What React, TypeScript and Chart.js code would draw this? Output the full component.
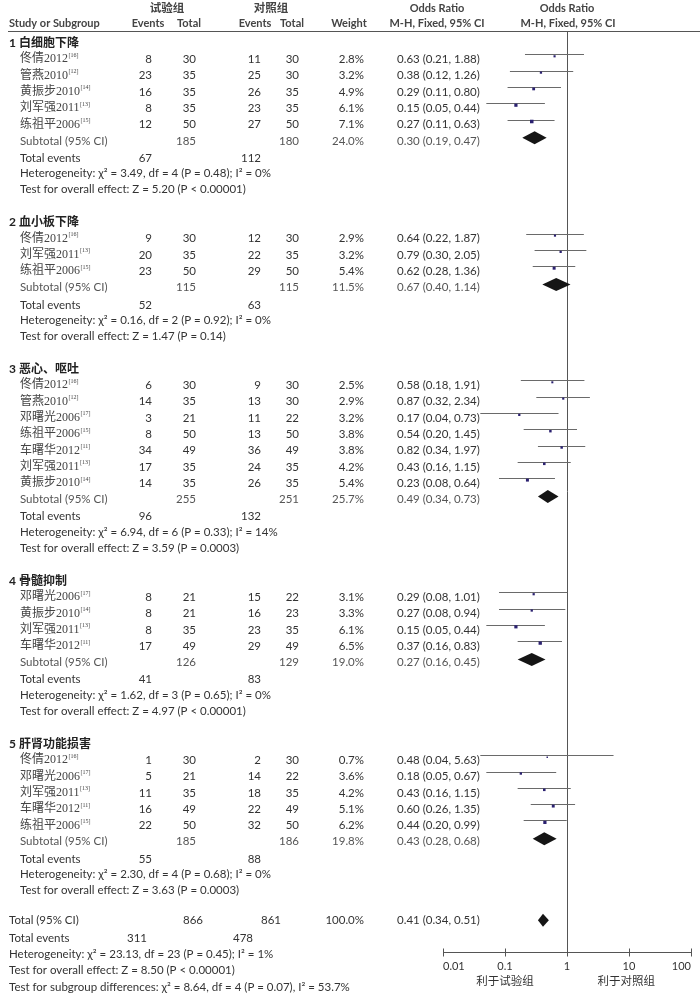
import React, { useEffect, useRef } from "react";
import { Chart, registerables } from "chart.js";
Chart.register(...registerables);

// ---------- data ----------
const groupTitles = ["1 白细胞下降", "2 血小板下降", "3 恶心、呕吐", "4 骨髓抑制", "5 肝肾功能损害"];
const groupSizes = [5, 3, 7, 4, 5];

const studyNames = [
  "佟倩2012", "管燕2010", "黄振步2010", "刘军强2011", "练祖平2006",
  "佟倩2012", "刘军强2011", "练祖平2006",
  "佟倩2012", "管燕2010", "邓曙光2006", "练祖平2006", "车曙华2012", "刘军强2011", "黄振步2010",
  "邓曙光2006", "黄振步2010", "刘军强2011", "车曙华2012",
  "佟倩2012", "邓曙光2006", "刘军强2011", "车曙华2012", "练祖平2006",
];
const studyRefs = [
  "[16]", "[12]", "[14]", "[13]", "[15]",
  "[16]", "[13]", "[15]",
  "[16]", "[12]", "[17]", "[15]", "[11]", "[13]", "[14]",
  "[17]", "[14]", "[13]", "[11]",
  "[16]", "[17]", "[13]", "[11]", "[15]",
];
const expEvents = [8, 23, 16, 8, 12, 9, 20, 23, 6, 14, 3, 8, 34, 17, 14, 8, 8, 8, 17, 1, 5, 11, 16, 22];
const expTotals = [30, 35, 35, 35, 50, 30, 35, 50, 30, 35, 21, 50, 49, 35, 35, 21, 21, 35, 49, 30, 21, 35, 49, 50];
const ctrlEvents = [11, 25, 26, 23, 27, 12, 22, 29, 9, 13, 11, 13, 36, 24, 26, 15, 16, 23, 29, 2, 14, 18, 22, 32];
const ctrlTotals = [30, 30, 35, 35, 50, 30, 35, 50, 30, 30, 22, 50, 49, 35, 35, 22, 23, 35, 49, 30, 22, 35, 49, 50];
const studyWeights = [2.8, 3.2, 4.9, 6.1, 7.1, 2.9, 3.2, 5.4, 2.5, 2.9, 3.2, 3.8, 3.8, 4.2, 5.4, 3.1, 3.3, 6.1, 6.5, 0.7, 3.6, 4.2, 5.1, 6.2];
const studyOR = [0.63, 0.38, 0.29, 0.15, 0.27, 0.64, 0.79, 0.62, 0.58, 0.87, 0.17, 0.54, 0.82, 0.43, 0.23, 0.29, 0.27, 0.15, 0.37, 0.48, 0.18, 0.43, 0.60, 0.44];
const studyLow = [0.21, 0.12, 0.11, 0.05, 0.11, 0.22, 0.30, 0.28, 0.18, 0.32, 0.04, 0.20, 0.34, 0.16, 0.08, 0.08, 0.08, 0.05, 0.16, 0.04, 0.05, 0.16, 0.26, 0.20];
const studyHigh = [1.88, 1.26, 0.80, 0.44, 0.63, 1.87, 2.05, 1.36, 1.91, 2.34, 0.73, 1.45, 1.97, 1.15, 0.64, 1.01, 0.94, 0.44, 0.83, 5.63, 0.67, 1.15, 1.35, 0.99];

const subExpTotals = [185, 115, 255, 126, 185];
const subCtrlTotals = [180, 115, 251, 129, 186];
const subWeights = [24.0, 11.5, 25.7, 19.0, 19.8];
const subOR = [0.30, 0.67, 0.49, 0.27, 0.43];
const subLow = [0.19, 0.40, 0.34, 0.16, 0.28];
const subHigh = [0.47, 1.14, 0.73, 0.45, 0.68];
const subExpEvents = [67, 52, 96, 41, 55];
const subCtrlEvents = [112, 63, 132, 83, 88];
const hetChi = ["3.49", "0.16", "6.94", "1.62", "2.30"];
const hetDf = [4, 2, 6, 3, 4];
const hetP = ["0.48", "0.92", "0.33", "0.65", "0.68"];
const hetI2 = ["0%", "0%", "14%", "0%", "0%"];
const effectZ = ["5.20", "1.47", "3.59", "4.97", "3.63"];
const effectP = ["P < 0.00001", "P = 0.14", "P = 0.0003", "P < 0.00001", "P = 0.0003"];

const totalExp = 866;
const totalCtrl = 861;
const totalWeight = 100.0;
const totalOR = [0.41, 0.34, 0.51];
const totalEvents = [311, 478];
const totalHetText = "Heterogeneity: χ² = 23.13, df = 23 (P = 0.45); I² = 1%";
const totalEffectText = "Test for overall effect: Z = 8.50 (P < 0.00001)";
const subgroupDiffText = "Test for subgroup differences: χ² = 8.64, df = 4 (P = 0.07), I² = 53.7%";

const axisTicks = [0.01, 0.1, 1, 10, 100];
const axisTickLabels = ["0.01", "0.1", "1", "10", "100"];
const favourLabels = ["利于试验组", "利于对照组"];

// ---------- layout ----------
const W = 700, H = 997;
const ROW0_PX = 40, ROW_PX = 16.3, PLOT_TOP = 31, PLOT_BOTTOM = 952;
const Y_MIN = -(ROW0_PX - PLOT_TOP) / ROW_PX;
const Y_MAX = (PLOT_BOTTOM - ROW0_PX) / ROW_PX;
const TEXT_SHIFT = 3;
const COL = { title: 9, name: 20, expEv: 152, expTot: 196, ctrlEv: 261, ctrlTot: 299, weight: 364, orText: 397 };

const LATIN = "Lato, 'Noto Sans CJK SC', sans-serif";
const SERIF = "'Liberation Serif', 'Noto Sans CJK SC', serif";
const TXT = "#333";

// row indices
const studyRows: number[] = [];
const titleRows: number[] = [];
const subRows: number[] = [];
let rr = 0;
let si = 0;
groupSizes.forEach((n) => {
  titleRows.push(rr);
  for (let k = 0; k < n; k++) studyRows[si++] = rr + 1 + k;
  subRows.push(rr + n + 1);
  rr += n + 6;
});
const totalRow = rr;

const fmtOR = (o: number, l: number, h: number) => `${o.toFixed(2)} (${l.toFixed(2)}, ${h.toFixed(2)})`;

function txt(ctx: CanvasRenderingContext2D, s: string, x: number, y: number, align: CanvasTextAlign, font: string, color = TXT) {
  ctx.font = font;
  ctx.fillStyle = color;
  ctx.textAlign = align;
  ctx.textBaseline = "middle";
  ctx.fillText(s, x, y);
}

const forestPlugin = {
  id: "forest",
  beforeDatasetsDraw(chart: any) {
    const { ctx, chartArea, scales } = chart;
    const x = scales.x, y = scales.y;
    ctx.save();
    ctx.lineWidth = 1;
    // header rule
    ctx.strokeStyle = "#555";
    ctx.beginPath();
    ctx.moveTo(8, chartArea.top + 0.5);
    ctx.lineTo(W, chartArea.top + 0.5);
    ctx.stroke();
    // line of no effect
    const x1 = Math.round(x.getPixelForValue(1)) + 0.5;
    ctx.beginPath();
    ctx.moveTo(x1, chartArea.top);
    ctx.lineTo(x1, chartArea.bottom);
    ctx.stroke();
    // confidence intervals
    ctx.strokeStyle = "#6a6a6a";
    studyOR.forEach((_, i) => {
      const py = Math.round(y.getPixelForValue(studyRows[i])) - 1.5;
      ctx.beginPath();
      ctx.moveTo(x.getPixelForValue(studyLow[i]), py);
      ctx.lineTo(x.getPixelForValue(studyHigh[i]), py);
      ctx.stroke();
    });
    // diamonds
    const diamond = (o: number, l: number, h: number, row: number, half: number) => {
      const cy = y.getPixelForValue(row);
      ctx.fillStyle = "#151515";
      ctx.beginPath();
      ctx.moveTo(x.getPixelForValue(l), cy);
      ctx.lineTo(x.getPixelForValue(o), cy - half);
      ctx.lineTo(x.getPixelForValue(h), cy);
      ctx.lineTo(x.getPixelForValue(o), cy + half);
      ctx.closePath();
      ctx.fill();
    };
    subOR.forEach((o, g) => diamond(o, subLow[g], subHigh[g], subRows[g], 6.5));
    diamond(totalOR[0], totalOR[1], totalOR[2], totalRow, 6.5);
    // axis
    ctx.strokeStyle = "#555";
    const ay = chartArea.bottom + 0.5;
    ctx.beginPath();
    ctx.moveTo(x.getPixelForValue(axisTicks[0]), ay);
    ctx.lineTo(x.getPixelForValue(axisTicks[axisTicks.length - 1]), ay);
    axisTicks.forEach((t) => {
      const tx = Math.round(x.getPixelForValue(t)) + 0.5;
      ctx.moveTo(tx, ay - 4);
      ctx.lineTo(tx, ay + 4);
    });
    ctx.stroke();
    axisTicks.forEach((t, i) => {
      const tx = x.getPixelForValue(t);
      const align: CanvasTextAlign = i === 0 ? "left" : i === axisTicks.length - 1 ? "right" : "center";
      txt(ctx, axisTickLabels[i], tx, ay + 14, align, `11px ${LATIN}`);
    });
    txt(ctx, favourLabels[0], x.getPixelForValue(0.1), ay + 28, "center", `11.5px 'Noto Sans CJK SC'`);
    txt(ctx, favourLabels[1], x.getPixelForValue(9), ay + 28, "center", `11.5px 'Noto Sans CJK SC'`);
    ctx.restore();
  },
  afterDatasetsDraw(chart: any) {
    const { ctx, scales } = chart;
    const y = scales.y;
    const x = scales.x;
    const ry = (row: number) => y.getPixelForValue(row) + TEXT_SHIFT;
    ctx.save();
    const F = `11.5px ${LATIN}`;
    const FB = `bold 11px ${LATIN}`;
    const sub = "#555";
    // header
    txt(ctx, "试验组", 167, 8, "center", `bold 11.5px 'Noto Sans CJK SC'`, "#444");
    txt(ctx, "对照组", 271, 8, "center", `bold 11.5px 'Noto Sans CJK SC'`, "#444");
    txt(ctx, "Odds Ratio", 437, 8, "center", FB, "#444");
    txt(ctx, "Odds Ratio", x.getPixelForValue(1), 8, "center", FB, "#444");
    txt(ctx, "Study or Subgroup", 9, 23, "left", FB, "#444");
    txt(ctx, "Events", 148, 23, "center", FB, "#444");
    txt(ctx, "Total", 189, 23, "center", FB, "#444");
    txt(ctx, "Events", 255, 23, "center", FB, "#444");
    txt(ctx, "Total", 292, 23, "center", FB, "#444");
    txt(ctx, "Weight", 349, 23, "center", FB, "#444");
    txt(ctx, "M-H, Fixed, 95% CI", 437, 23, "center", FB, "#444");
    txt(ctx, "M-H, Fixed, 95% CI", x.getPixelForValue(1) + 1, 23, "center", FB, "#444");

    groupTitles.forEach((t, g) => {
      txt(ctx, t, COL.title, ry(titleRows[g]), "left", `bold 12px ${LATIN}`, "#222");
    });
    studyNames.forEach((nm, i) => {
      const py = ry(studyRows[i]);
      txt(ctx, nm, COL.name, py, "left", `12px ${SERIF}`, "#444");
      ctx.font = `12px ${SERIF}`;
      const w = ctx.measureText(nm).width;
      txt(ctx, studyRefs[i], COL.name + w + 0.5, py - 4, "left", `6px ${SERIF}`, "#444");
      txt(ctx, String(expEvents[i]), COL.expEv, py, "right", F);
      txt(ctx, String(expTotals[i]), COL.expTot, py, "right", F);
      txt(ctx, String(ctrlEvents[i]), COL.ctrlEv, py, "right", F);
      txt(ctx, String(ctrlTotals[i]), COL.ctrlTot, py, "right", F);
      txt(ctx, studyWeights[i].toFixed(1) + "%", COL.weight, py, "right", F);
      txt(ctx, fmtOR(studyOR[i], studyLow[i], studyHigh[i]), COL.orText, py, "left", F);
    });
    subRows.forEach((r, g) => {
      const py = ry(r);
      txt(ctx, "Subtotal (95% CI)", COL.name, py, "left", F, sub);
      txt(ctx, String(subExpTotals[g]), COL.expTot, py, "right", F, sub);
      txt(ctx, String(subCtrlTotals[g]), COL.ctrlTot, py, "right", F, sub);
      txt(ctx, subWeights[g].toFixed(1) + "%", COL.weight, py, "right", F, sub);
      txt(ctx, fmtOR(subOR[g], subLow[g], subHigh[g]), COL.orText, py, "left", F, sub);
      const p2 = ry(r + 1) + 1;
      txt(ctx, "Total events", COL.name, p2, "left", F);
      txt(ctx, String(subExpEvents[g]), COL.expEv, p2, "right", F);
      txt(ctx, String(subCtrlEvents[g]), COL.ctrlEv, p2, "right", F);
      txt(ctx, `Heterogeneity: χ² = ${hetChi[g]}, df = ${hetDf[g]} (P = ${hetP[g]}); I² = ${hetI2[g]}`, COL.name, ry(r + 2), "left", F);
      txt(ctx, `Test for overall effect: Z = ${effectZ[g]} (${effectP[g]})`, COL.name, ry(r + 3), "left", F);
    });
    // overall
    const pt = ry(totalRow) - 3;
    txt(ctx, "Total (95% CI)", COL.title, pt, "left", F);
    txt(ctx, String(totalExp), 203, pt, "right", F);
    txt(ctx, String(totalCtrl), 281, pt, "right", F);
    txt(ctx, totalWeight.toFixed(1) + "%", COL.weight, pt, "right", F);
    txt(ctx, fmtOR(totalOR[0], totalOR[1], totalOR[2]), COL.orText, pt, "left", F);
    const pe = ry(totalRow + 1) - 1;
    txt(ctx, "Total events", COL.title, pe, "left", F);
    txt(ctx, String(totalEvents[0]), 147, pe, "right", F);
    txt(ctx, String(totalEvents[1]), 253, pe, "right", F);
    txt(ctx, totalHetText, COL.title, ry(totalRow + 2) - 2, "left", F);
    txt(ctx, totalEffectText, COL.title, ry(totalRow + 3) - 2, "left", F);
    txt(ctx, subgroupDiffText, COL.title, ry(totalRow + 4) - 1, "left", F);
    ctx.restore();
  },
};

export default function App() {
  const ref = useRef<HTMLCanvasElement | null>(null);
  useEffect(() => {
    if (!ref.current) return;
    const points = studyOR.map((o, i) => ({ x: o, y: studyRows[i] }));
    const radii = studyWeights.map((w) => (1.2 + w * 0.33) / 1.414);
    const chart = new Chart(ref.current, {
      type: "scatter",
      data: {
        datasets: [
          {
            data: points,
            pointStyle: "rect",
            pointRadius: radii,
            backgroundColor: "#2b2170",
            borderColor: "#2b2170",
            borderWidth: 0,
          },
        ],
      },
      options: {
        responsive: false,
        animation: false,
        devicePixelRatio: 1,
        events: [],
        layout: { padding: { left: 443, right: W - 691, top: PLOT_TOP, bottom: H - PLOT_BOTTOM } },
        scales: {
          x: { type: "logarithmic", min: 0.01, max: 100, display: false },
          y: { type: "linear", min: Y_MIN, max: Y_MAX, reverse: true, display: false },
        },
        plugins: { legend: { display: false }, tooltip: { enabled: false } },
      },
      plugins: [forestPlugin],
    } as any);
    return () => chart.destroy();
  }, []);
  return (
    <div style={{ position: "absolute", left: 0, top: 0, width: W, height: H, background: "#fff" }}>
      <canvas ref={ref} width={W} height={H} style={{ display: "block", width: W, height: H }} />
    </div>
  );
}
